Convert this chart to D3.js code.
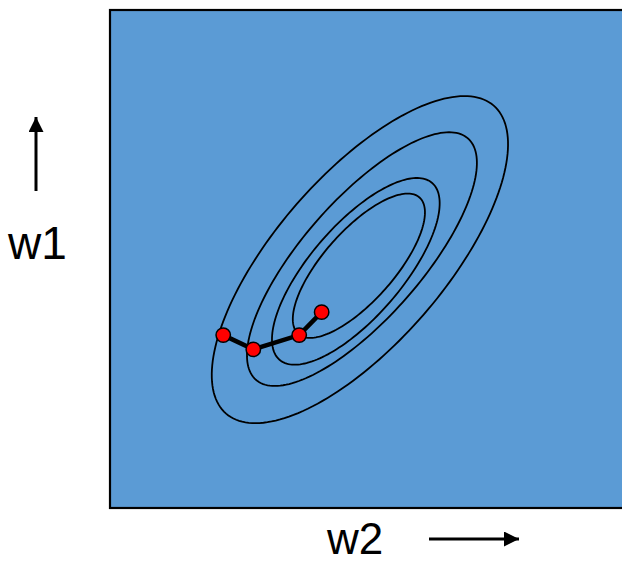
<!DOCTYPE html>
<html>
<head>
    <meta charset="utf-8">
    <title>Gradient descent contours</title>
    <script src="https://d3js.org/d3.v7.min.js"></script>
    <style>
        body { margin: 0; background: #fff; }
        svg { display: block; }
        text { font-family: "Liberation Sans", Arial, sans-serif; fill: #000; }
    </style>
</head>
<body>
<div id="chart"></div>
<script type="text/javascript">

	// contour ellipses in (w2, w1) units: centre, semi axes, tilt in degrees
	var ellipseCx    = [4.90, 4.94, 4.82, 4.88];
	var ellipseCy    = [4.87, 4.88, 4.64, 4.75];
	var ellipseMajor = [4.00, 3.15, 2.29, 1.79];
	var ellipseMinor = [1.65, 1.16, 0.90, 0.69];
	var ellipseTilt  = [49, 48.7, 49.2, 48.4];

	// descent steps
	var stepW2 = [2.22, 2.81, 3.71, 4.15];
	var stepW1 = [3.39, 3.11, 3.39, 3.84];

	var xLabel = "w2";
	var yLabel = "w1";

	var width = 622, height = 564;
	var plot = {left: 110, top: 10, right: 624, bottom: 508};

	var svg = d3.select("#chart").append("svg")
		.attr("width", width)
		.attr("height", height);

	// same pixels per unit on both axes so the tilt is kept
	var x = d3.scaleLinear().domain([0, 10]).range([plot.left, plot.left + 510]);
	var y = d3.scaleLinear().domain([0, (plot.bottom - plot.top) / 51]).range([plot.bottom, plot.top]);

	svg.append("defs").append("clipPath").attr("id", "clip")
		.append("rect")
		.attr("x", plot.left).attr("y", plot.top)
		.attr("width", plot.right - plot.left).attr("height", plot.bottom - plot.top);

	// blue panel
	svg.append("rect")
		.attr("x", plot.left)
		.attr("y", plot.top)
		.attr("width", plot.right - plot.left)
		.attr("height", plot.bottom - plot.top)
		.attr("fill", "#5b9bd5")
		.attr("stroke", "#000")
		.attr("stroke-width", 2.2);

	// build each ellipse as a closed line through the scales
	var ellipseLine = d3.line()
		.x(function(p){ return x(p[0]); })
		.y(function(p){ return y(p[1]); })
		.curve(d3.curveLinearClosed);

	var ellipses = d3.range(ellipseCx.length).map(function(i){
		var t = ellipseTilt[i] * Math.PI / 180;
		return d3.range(0, 360, 2).map(function(deg){
			var a = deg * Math.PI / 180;
			var u = ellipseMajor[i] * Math.cos(a), v = ellipseMinor[i] * Math.sin(a);
			return [ellipseCx[i] + u * Math.cos(t) - v * Math.sin(t),
			        ellipseCy[i] + u * Math.sin(t) + v * Math.cos(t)];
		});
	});

	var g = svg.append("g").attr("clip-path", "url(#clip)");

	g.selectAll("path.contour")
		.data(ellipses)
		.enter()
		.append("path")
		.attr("class", "contour")
		.attr("d", ellipseLine)
		.attr("fill", "none")
		.attr("stroke", "#000")
		.attr("stroke-width", 1.8);

	// path of the steps
	var steps = stepW2.map(function(d, i){ return [d, stepW1[i]]; });

	g.append("path")
		.datum(steps)
		.attr("d", d3.line().x(function(p){ return x(p[0]); }).y(function(p){ return y(p[1]); }))
		.attr("fill", "none")
		.attr("stroke", "#000")
		.attr("stroke-width", 4.5);

	g.selectAll("circle")
		.data(steps)
		.enter()
		.append("circle")
		.attr("cx", function(p){ return x(p[0]); })
		.attr("cy", function(p){ return y(p[1]); })
		.attr("r", 7.2)
		.attr("fill", "#ff0000")
		.attr("stroke", "#000")
		.attr("stroke-width", 1.5);

	// axis names with arrows
	var arrowHead = svg.append("defs").append("marker")
		.attr("id", "head")
		.attr("viewBox", "0 0 10 10")
		.attr("refX", 10).attr("refY", 5)
		.attr("markerWidth", 5.5).attr("markerHeight", 5)
		.attr("markerUnits", "strokeWidth")
		.attr("orient", "auto");
	arrowHead.append("path").attr("d", "M0,0L10,5L0,10Z").attr("fill", "#000");

	svg.append("line")
		.attr("x1", 36).attr("y1", 191)
		.attr("x2", 36).attr("y2", 117)
		.attr("stroke", "#000")
		.attr("stroke-width", 3)
		.attr("marker-end", "url(#head)");

	svg.append("line")
		.attr("x1", 429).attr("y1", 539)
		.attr("x2", 519).attr("y2", 539)
		.attr("stroke", "#000")
		.attr("stroke-width", 3)
		.attr("marker-end", "url(#head)");

	svg.append("text")
		.attr("x", 8)
		.attr("y", 259)
		.style("font-size", "46px")
		.text(yLabel);

	svg.append("text")
		.attr("x", 327)
		.attr("y", 554)
		.style("font-size", "44px")
		.text(xLabel);

</script>
</body>
</html>
